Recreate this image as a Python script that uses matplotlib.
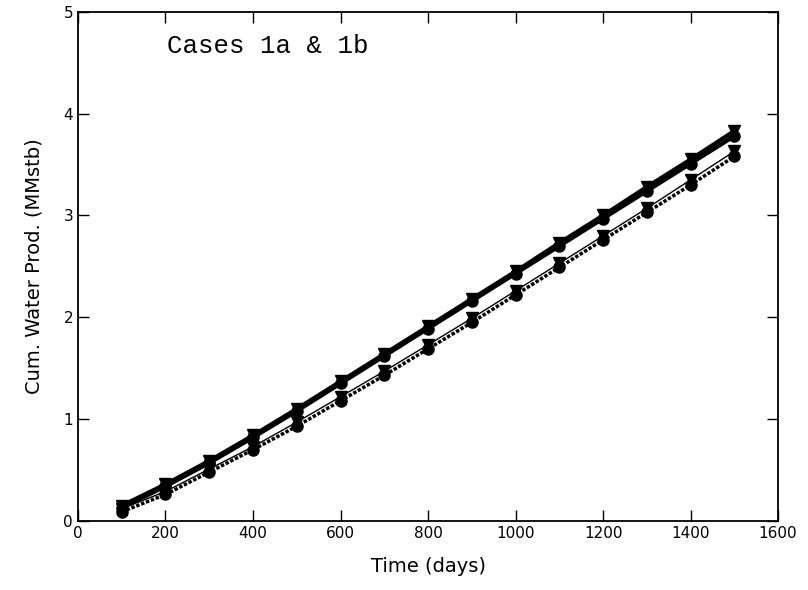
import matplotlib
matplotlib.use('Agg')
import matplotlib.pyplot as plt

# time (days)
days = [100, 200, 300, 400, 500, 600, 700, 800, 900, 1000, 1100, 1200, 1300, 1400, 1500]

# cumulative water production (MMstb)
case1a_fine = [0.15, 0.36, 0.59, 0.84, 1.10, 1.37, 1.64, 1.91, 2.18, 2.45, 2.73, 3.00, 3.28, 3.55, 3.83]
case1a_coarse = [0.13, 0.34, 0.57, 0.82, 1.08, 1.35, 1.62, 1.89, 2.16, 2.43, 2.70, 2.97, 3.24, 3.51, 3.78]
case1b_fine = [0.12, 0.29, 0.51, 0.73, 0.97, 1.22, 1.47, 1.73, 1.99, 2.26, 2.53, 2.80, 3.07, 3.35, 3.63]
case1b_coarse = [0.09, 0.26, 0.48, 0.70, 0.93, 1.18, 1.43, 1.69, 1.95, 2.22, 2.49, 2.76, 3.03, 3.30, 3.58]

fig = plt.figure(figsize=(8.08, 5.9), dpi=100)
ax = fig.add_axes([0.0965, 0.117, 0.8665, 0.863])

ax.plot(days, case1a_fine, color='black', lw=3, marker='v', ms=9)
ax.plot(days, case1a_coarse, color='black', lw=3, marker='o', ms=8)
ax.plot(days, case1b_fine, color='black', lw=1, marker='v', ms=8)
ax.plot(days, case1b_coarse, color='black', lw=2.5, ls=(0, (1, 0.5)), marker='o', ms=8)

ax.set_xlim(0, 1600)
ax.set_ylim(0, 5)
ax.set_xticks(range(0, 1601, 200))
ax.set_yticks(range(0, 6))

ax.tick_params(direction='in', top=True, right=True, length=8, width=1, labelsize=11)
for s in ax.spines.values():
    s.set_linewidth(1.3)

ax.set_xlabel('Time (days)', fontsize=14, labelpad=12)
ax.set_ylabel('Cum. Water Prod. (MMstb)', fontsize=14, labelpad=14)

ax.text(203, 4.66, 'Cases 1a & 1b', fontsize=18.5, family='Liberation Mono', va='center')

fig.savefig('out.png', dpi=100)
